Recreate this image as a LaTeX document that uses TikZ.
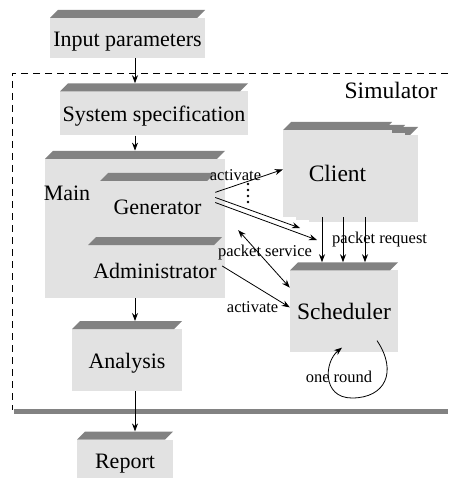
\documentclass[tikz,border=0pt]{standalone}
\usepackage{fontspec}
\setmainfont{Liberation Serif}
\usepackage{tikz}
\usetikzlibrary{positioning,arrows.meta,calc}
\definecolor{cuerpo}{RGB}{226,226,226}
\definecolor{tapa}{RGB}{130,130,130}
\newcommand{\grande}{\fontsize{22}{25}\selectfont}
\newcommand{\enorme}{\fontsize{23.5}{26}\selectfont}
\newcommand{\chico}{\fontsize{16.5}{19}\selectfont}

\begin{document}
\begin{tikzpicture}[x=1pt, y=-1pt,
  caja/.style={inner sep=0pt, text height=30pt, text depth=5pt, font=\grande,
    path picture={
      \fill[cuerpo] ([yshift=-8pt]path picture bounding box.north west)
        rectangle (path picture bounding box.south east);
      \fill[tapa] ([yshift=-8pt]path picture bounding box.north west)
        -- ([xshift=8pt]path picture bounding box.north west)
        -- (path picture bounding box.north east)
        -- ([shift={(-8pt,-8pt)}]path picture bounding box.north east) -- cycle;}},
  flecha/.style={-{Stealth[length=8pt, width=6pt]}, line width=0.8pt},
  doble/.style={{Stealth[length=8pt, width=6pt]}-{Stealth[length=8pt, width=6pt]},
                line width=0.8pt},
  etiq/.style={font=\chico, inner sep=1pt}]
  \useasboundingbox (0,0) rectangle (448,478);
  % marco del simulador
  \draw[line width=0.7pt, dash pattern=on 7pt off 5pt] (448,73) -- (12,73) -- (12,410);
  \fill[tapa] (14,409) rectangle (448,414);
  \node[font=\enorme] (sim) at (391,90) {Simulator};

  \node[caja, minimum width=155pt, minimum height=48pt] (inp) at (127.5,34) {Input parameters};
  \node[caja, minimum width=188pt, minimum height=52pt, below=25pt of inp, xshift=26.5pt]
       (sys) {System specification};
  \node[caja, minimum width=180pt, minimum height=147pt, below=15pt of sys, xshift=-19pt]
       (main) {};
  \node[font=\grande] (mlab) at (67,193) {Main};
  \node[caja, minimum width=115pt, minimum height=57pt] (gen) at (157.5,201.5) {Generator};
  \node[caja, minimum width=134pt, minimum height=58pt] (adm) at (155,266) {Administrator};
  \node[caja, minimum width=110pt, minimum height=70pt, below=23pt of main, xshift=-8pt]
       (ana) {Analysis};
  \node[caja, minimum width=96pt, minimum height=48pt, below=40pt of ana, xshift=-2pt]
       (rep) {Report};

  % clientes apilados
  \node[caja, minimum width=109pt, minimum height=95pt] (cli3) at (363.5,174.5) {};
  \node[caja, minimum width=109pt, minimum height=95pt] (cli2) at (350.5,172.5) {};
  \node[caja, font=\enorme, minimum width=109pt, minimum height=95pt] (cli) at (337.5,169.5) {Client};
  \node[caja, font=\enorme, minimum width=108pt, minimum height=90pt, below=45pt of cli, xshift=6.5pt]
       (sch) {Scheduler};

  \draw[flecha] (inp.south -| main.north) -- (sys.north -| main.north);
  \draw[flecha] (sys.south -| main.north) -- (main.north);
  \draw[flecha] (main.south) -- (ana.north -| main.south);
  \draw[flecha] (ana.south -| main.south) -- (rep.north -| main.south);

  \draw[flecha] (gen.9) -- node[etiq, pos=0.3, above=3pt] {activate} (cli.west);
  \draw[line width=2.6pt, line cap=round, dash pattern=on 0pt off 6pt] (248,184) -- (248,203);
  \coordinate (req1) at (300,228);
  \coordinate (req2) at (317,240);
  \draw[flecha] (gen.4) -- (req1);
  \draw[flecha] (gen.-1) -- (req2);
  \coordinate (serv) at ($(gen.south east)+(23,0)$);
  \draw[doble] (serv) -- (sch.160);
  \node[etiq] (lserv) at (265,253) {packet service};
  \draw[flecha] (adm.east) -- node[etiq, pos=0.45, below=16pt] {activate} (sch.west);
  \foreach \x in {322,343,365}
    \draw[flecha] (\x,0 |- cli.south) -- (\x,0 |- sch.north);
  \node[etiq, anchor=west] (lreq) at (331,240) {packet request};
  \coordinate (ro1) at ($(sch.south)+(33,-12)$);
  \coordinate (ro2) at ($(sch.south)+(-2,-5)$);
  \draw[flecha] (ro1) .. controls (398,372) and (385,398) .. (352,398)
    .. controls (322,398) and (324,362) .. (ro2);
  \node[etiq] (lround) at (339,377) {one round};
\end{tikzpicture}
\end{document}
